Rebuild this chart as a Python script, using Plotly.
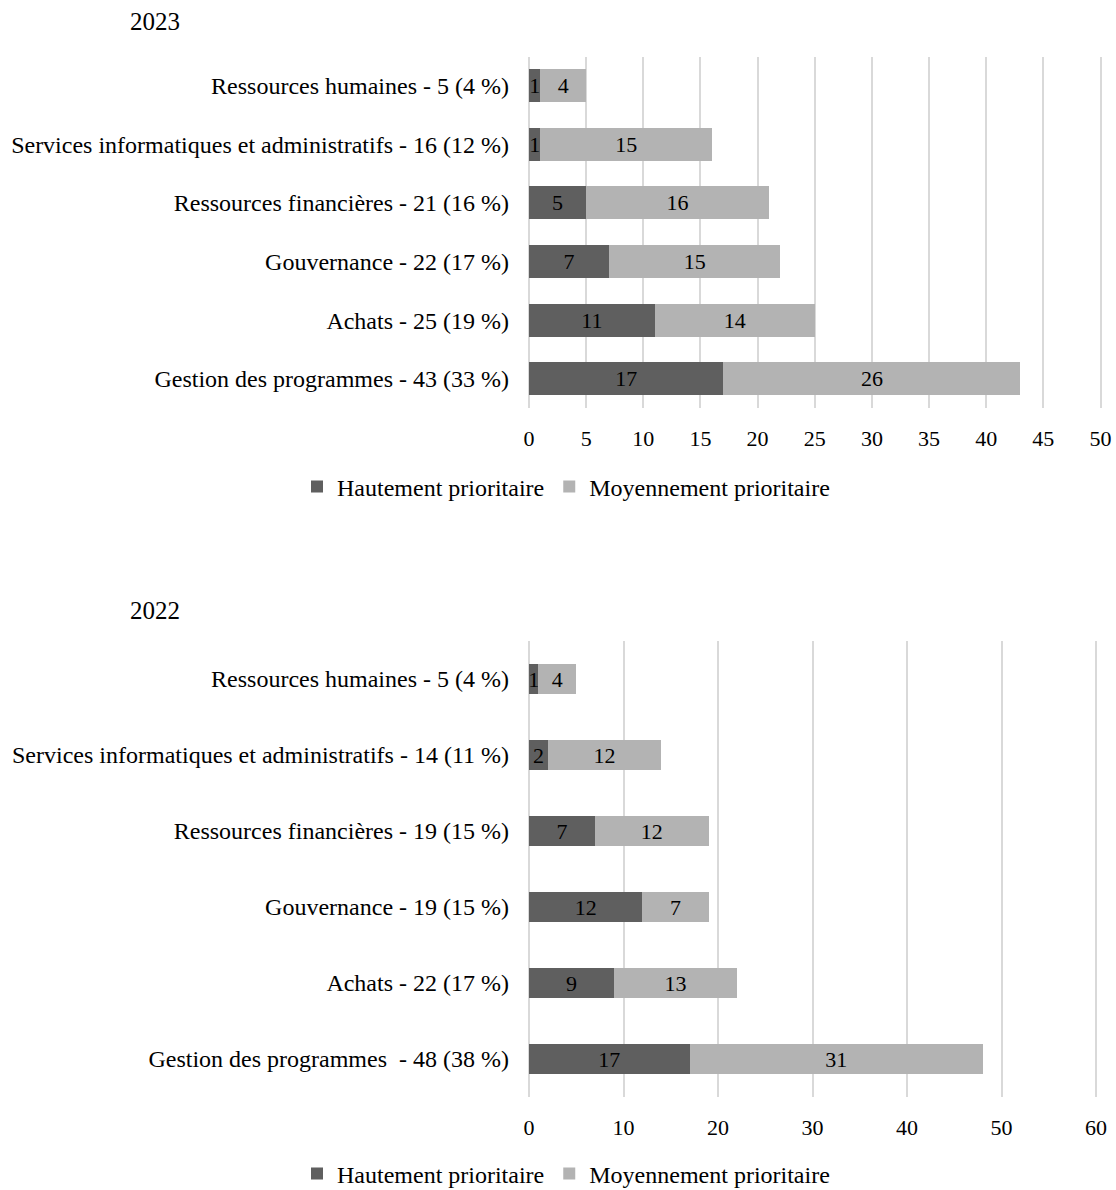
import plotly.graph_objects as go

# ---- data ----
cats_2023 = [
    "Gestion des programmes - 43 (33 %)",
    "Achats - 25 (19 %)",
    "Gouvernance - 22 (17 %)",
    "Ressources financières - 21 (16 %)",
    "Services informatiques et administratifs - 16 (12 %)",
    "Ressources humaines - 5 (4 %)",
]
high_2023 = [17, 11, 7, 5, 1, 1]
med_2023 = [26, 14, 15, 16, 15, 4]

cats_2022 = [
    "Gestion des programmes\u00a0 - 48 (38 %)",
    "Achats - 22 (17 %)",
    "Gouvernance - 19 (15 %)",
    "Ressources financières - 19 (15 %)",
    "Services informatiques et administratifs - 14 (11 %)",
    "Ressources humaines - 5 (4 %)",
]
high_2022 = [17, 9, 12, 7, 2, 1]
med_2022 = [31, 13, 7, 12, 12, 4]

xticks_2023 = [0, 5, 10, 15, 20, 25, 30, 35, 40, 45, 50]
xticks_2022 = [0, 10, 20, 30, 40, 50, 60]

series_names = ["Hautement prioritaire", "Moyennement prioritaire"]
titles = ["2023", "2022"]

# ---- style ----
FONT = "Liberation Serif"
FS_CAT = 24
FS_TICK = 22
FS_BAR = 22
FS_LEG = 24
FS_TITLE = 25
DARK = "#5f5f5f"
LIGHT = "#b3b3b3"
GRID = "#d9d9d9"
W, H = 1116, 1190

fig = go.Figure()

def add_bars(cats, high, med, xa, ya, legend, width):
    for name, vals, col in [(series_names[0], high, DARK), (series_names[1], med, LIGHT)]:
        fig.add_trace(go.Bar(
            y=cats, x=vals, name=name, orientation="h",
            marker=dict(color=col, line=dict(width=0)),
            text=[str(v) for v in vals], textposition="inside",
            insidetextanchor="middle", textangle=0, constraintext="none",
            textfont=dict(family=FONT, size=FS_BAR, color="black"),
            width=width, xaxis=xa, yaxis=ya, legend=legend,
            hoverinfo="skip",
        ))

add_bars(cats_2023, high_2023, med_2023, "x", "y", "legend", 0.563)
add_bars(cats_2022, high_2022, med_2022, "x2", "y2", "legend2", 0.395)

def px_x(p):
    return p / W

def px_y(p):
    return 1 - p / H

# axis ranges padded slightly so the last gridline is not clipped at the edge
X0 = 529.0
top_max, top_pad = xticks_2023[-1], 0.5
bot_max, bot_pad = xticks_2022[-1], 0.6
top_px_per_unit = (1100.5 - X0) / top_max
bot_px_per_unit = (1096.0 - X0) / bot_max

axis_common = dict(
    showgrid=True, gridcolor=GRID, gridwidth=1.5,
    zeroline=True, zerolinecolor=GRID, zerolinewidth=1.5,
    showline=False, ticks="", ticklabelstandoff=15,
    ticklabeloverflow="allow", automargin=False,
    tickfont=dict(family=FONT, size=FS_TICK, color="black"),
)
yaxis_common = dict(
    showgrid=False, zeroline=False, showline=False, ticks="",
    ticklabelstandoff=19, type="category", automargin=False,
    tickfont=dict(family=FONT, size=FS_CAT, color="black"),
)
legend_common = dict(
    orientation="h", xanchor="center", yanchor="middle",
    xref="container", yref="container",
    traceorder="normal",
    font=dict(family=FONT, size=FS_LEG, color="black"),
    bgcolor="rgba(0,0,0,0)",
)

fig.update_layout(
    width=W, height=H, margin=dict(l=0, r=0, t=0, b=0, autoexpand=False),
    paper_bgcolor="white", plot_bgcolor="white",
    barmode="stack",
    font=dict(family=FONT, size=FS_CAT, color="black"),
    uniformtext=dict(minsize=FS_BAR, mode="show"),
    xaxis=dict(domain=[px_x(X0), px_x(X0 + top_px_per_unit * (top_max + top_pad))],
               range=[0, top_max + top_pad],
               tickvals=xticks_2023, anchor="y", **axis_common),
    yaxis=dict(domain=[px_y(408), px_y(56.5)], anchor="x", **yaxis_common),
    xaxis2=dict(domain=[px_x(X0), px_x(X0 + bot_px_per_unit * (bot_max + bot_pad))],
                range=[0, bot_max + bot_pad],
                tickvals=xticks_2022, anchor="y2", **axis_common),
    yaxis2=dict(domain=[px_y(1097), px_y(641)], anchor="x2", **yaxis_common),
    legend=dict(x=px_x(566), y=px_y(487), **legend_common),
    legend2=dict(x=px_x(566), y=px_y(1174), **legend_common),
    annotations=[
        dict(text=titles[0], x=px_x(155), y=px_y(21), xref="paper", yref="paper",
             showarrow=False, xanchor="center", yanchor="middle",
             font=dict(family=FONT, size=FS_TITLE, color="black")),
        dict(text=titles[1], x=px_x(155), y=px_y(610), xref="paper", yref="paper",
             showarrow=False, xanchor="center", yanchor="middle",
             font=dict(family=FONT, size=FS_TITLE, color="black")),
    ],
)

fig.write_html("out.html")
